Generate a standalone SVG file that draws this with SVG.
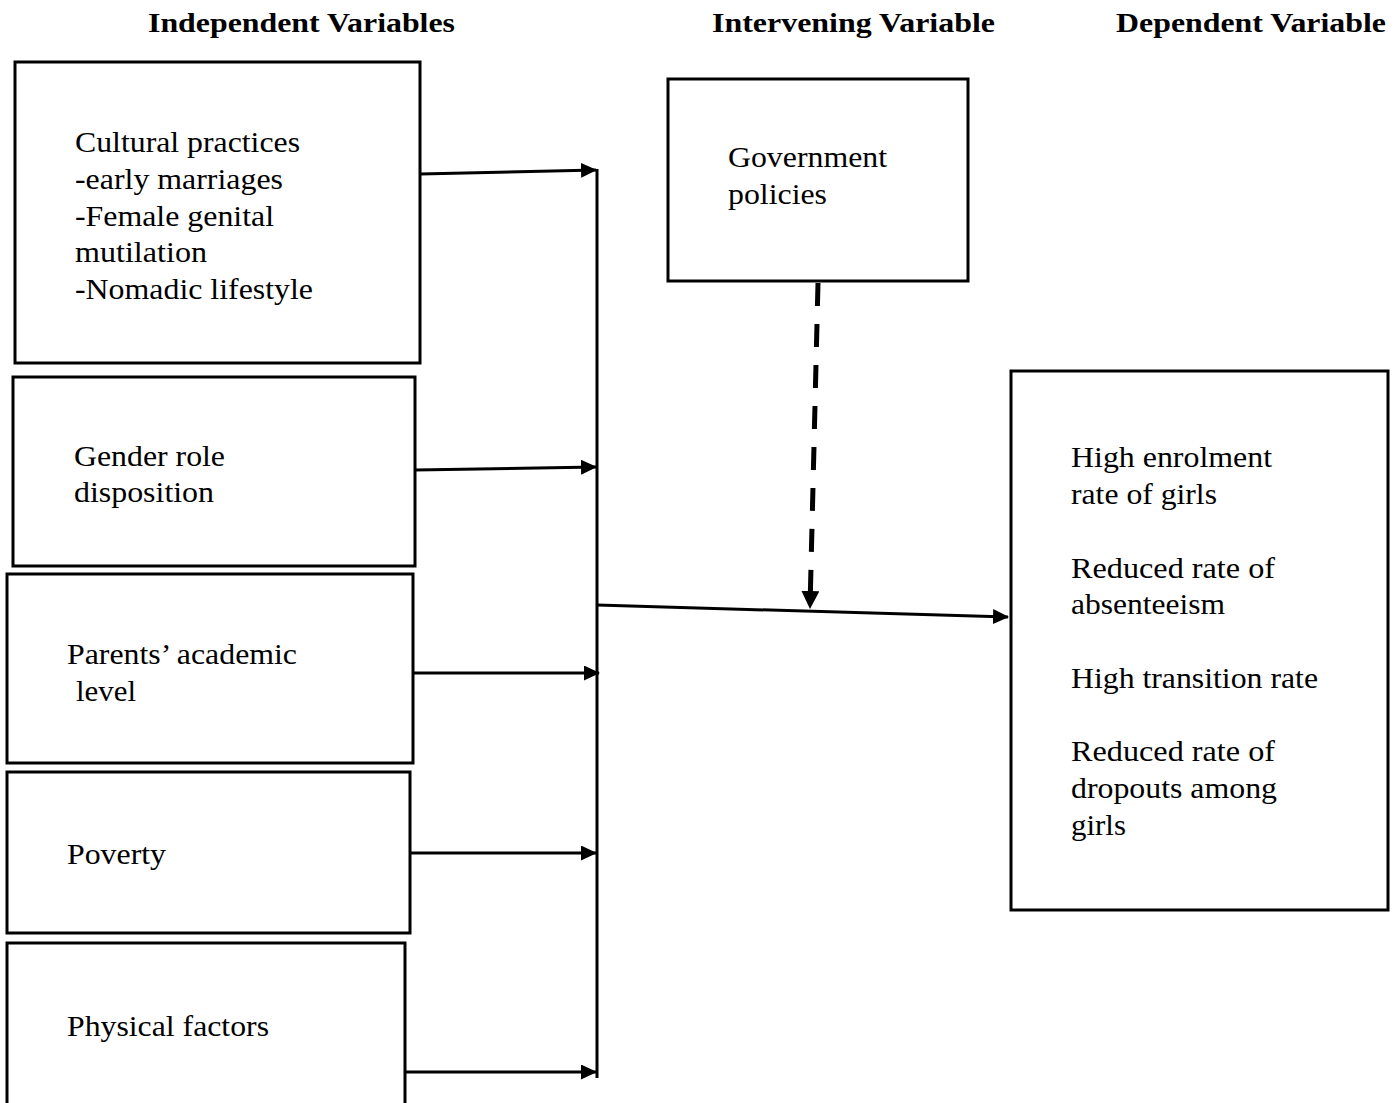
<svg xmlns="http://www.w3.org/2000/svg" width="1398" height="1103" viewBox="0 0 1398 1103">
<style>
.box{fill:#fff;stroke:#000;stroke-width:3}
.t{font-family:"Liberation Serif","Times New Roman",serif;font-size:29px;fill:#000}
.h{font-family:"Liberation Serif","Times New Roman",serif;font-size:27px;font-weight:bold;fill:#000}
.c{stroke:#000;stroke-width:3;fill:none}
.d{stroke:#000;stroke-width:5;fill:none;stroke-dasharray:23,18}
</style>
<defs>
<marker id="ah" markerWidth="16" markerHeight="15" refX="15" refY="7.5" orient="auto" markerUnits="userSpaceOnUse">
<path d="M0,0 L16,7.5 L0,15 Z" fill="#000"/>
</marker>
<marker id="ahd" markerWidth="18" markerHeight="18" refX="17" refY="9" orient="auto" markerUnits="userSpaceOnUse">
<path d="M0,0 L18,9 L0,18 Z" fill="#000"/>
</marker>
</defs>
<rect width="1398" height="1103" fill="#fff"/>
<g id="headers">
<text class="h" x="148" y="32" textLength="307" lengthAdjust="spacingAndGlyphs">Independent Variables</text>
<text class="h" x="712" y="32" textLength="283" lengthAdjust="spacingAndGlyphs">Intervening Variable</text>
<text class="h" x="1116" y="32" textLength="270" lengthAdjust="spacingAndGlyphs">Dependent Variable</text>
</g>
<g id="cultural">
<rect class="box" x="15" y="62" width="405" height="301"/>
<text class="t" x="75" y="152" textLength="225" lengthAdjust="spacingAndGlyphs">Cultural practices</text>
<text class="t" x="75" y="189" textLength="208" lengthAdjust="spacingAndGlyphs">-early marriages</text>
<text class="t" x="75" y="226" textLength="199" lengthAdjust="spacingAndGlyphs">-Female genital</text>
<text class="t" x="75" y="262" textLength="132" lengthAdjust="spacingAndGlyphs">mutilation</text>
<text class="t" x="75" y="299" textLength="238" lengthAdjust="spacingAndGlyphs">-Nomadic lifestyle</text>
</g>
<g id="gender">
<rect class="box" x="13" y="377" width="402" height="189"/>
<text class="t" x="74" y="466" textLength="151" lengthAdjust="spacingAndGlyphs">Gender role</text>
<text class="t" x="74" y="502" textLength="140" lengthAdjust="spacingAndGlyphs">disposition</text>
</g>
<g id="parents">
<rect class="box" x="7" y="574" width="406" height="189"/>
<text class="t" x="67" y="664" textLength="230" lengthAdjust="spacingAndGlyphs">Parents’ academic</text>
<text class="t" x="76" y="701" textLength="60" lengthAdjust="spacingAndGlyphs">level</text>
</g>
<g id="poverty">
<rect class="box" x="7" y="772" width="403" height="161"/>
<text class="t" x="67" y="864" textLength="99" lengthAdjust="spacingAndGlyphs">Poverty</text>
</g>
<g id="physical">
<rect class="box" x="7" y="943" width="398" height="170"/>
<text class="t" x="67" y="1036" textLength="202" lengthAdjust="spacingAndGlyphs">Physical factors</text>
</g>
<g id="government">
<rect class="box" x="668" y="79" width="300" height="202"/>
<text class="t" x="728" y="167" textLength="159" lengthAdjust="spacingAndGlyphs">Government</text>
<text class="t" x="728" y="204" textLength="99" lengthAdjust="spacingAndGlyphs">policies</text>
</g>
<g id="dependent">
<rect class="box" x="1011" y="371" width="377" height="539"/>
<text class="t" x="1071" y="467" textLength="201" lengthAdjust="spacingAndGlyphs">High enrolment</text>
<text class="t" x="1071" y="504" textLength="146" lengthAdjust="spacingAndGlyphs">rate of girls</text>
<text class="t" x="1071" y="578" textLength="204" lengthAdjust="spacingAndGlyphs">Reduced rate of</text>
<text class="t" x="1071" y="614" textLength="154" lengthAdjust="spacingAndGlyphs">absenteeism</text>
<text class="t" x="1071" y="688" textLength="247" lengthAdjust="spacingAndGlyphs">High transition rate</text>
<text class="t" x="1071" y="761" textLength="204" lengthAdjust="spacingAndGlyphs">Reduced rate of</text>
<text class="t" x="1071" y="798" textLength="206" lengthAdjust="spacingAndGlyphs">dropouts among</text>
<text class="t" x="1071" y="835" textLength="55" lengthAdjust="spacingAndGlyphs">girls</text>
</g>
<g id="connectors">
<line class="c" x1="597" y1="169" x2="597" y2="1078"/>
<line class="c" x1="420" y1="174" x2="596" y2="170" marker-end="url(#ah)"/>
<line class="c" x1="415" y1="470" x2="596" y2="467" marker-end="url(#ah)"/>
<line class="c" x1="413" y1="673" x2="599" y2="673" marker-end="url(#ah)"/>
<line class="c" x1="410" y1="853" x2="596" y2="853" marker-end="url(#ah)"/>
<line class="c" x1="405" y1="1072" x2="596" y2="1072" marker-end="url(#ah)"/>
<line class="c" x1="597" y1="605" x2="1008" y2="617" marker-end="url(#ah)"/>
<line class="d" x1="818" y1="283" x2="810" y2="608" marker-end="url(#ahd)"/>
</g>
</svg>
